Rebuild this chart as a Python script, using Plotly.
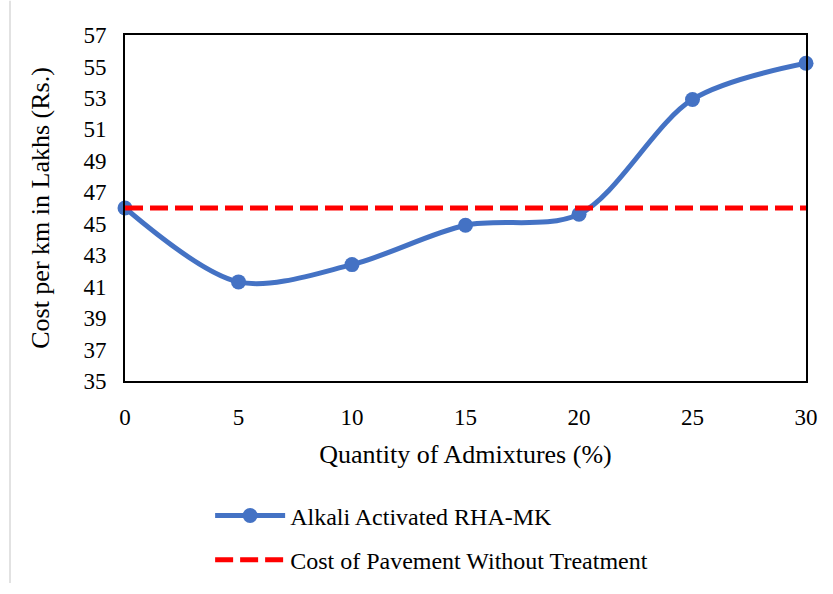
import plotly.graph_objects as go

# Admixture content (%) and cost per km (Rs. lakhs)
admixture_pct = [0, 5, 10, 15, 20, 25, 30]
cost_rha_mk = [46.0, 41.3, 42.4, 44.9, 45.6, 52.9, 55.2]
baseline_cost = 46.0
y_ticks = list(range(35, 58, 2))
x_ticks = list(range(0, 31, 5))

FONT = "Liberation Serif"

fig = go.Figure()

fig.add_trace(go.Scatter(
    x=admixture_pct, y=cost_rha_mk,
    mode="lines+markers",
    name="Alkali Activated RHA-MK",
    line=dict(color="#4472C4", width=5, shape="spline", smoothing=0.9),
    marker=dict(color="#4472C4", size=15),
    cliponaxis=False,
    legendgroup="a",
))

fig.add_trace(go.Scatter(
    x=[admixture_pct[0], admixture_pct[-1]],
    y=[baseline_cost, baseline_cost],
    mode="lines",
    name="Cost of Pavement Without Treatment",
    line=dict(color="#FF0000", width=5, dash="18px,7px"),
    cliponaxis=False,
    legendgroup="b",
))

fig.update_layout(
    width=833, height=594,
    margin=dict(l=125, r=27, t=35, b=206),
    paper_bgcolor="white",
    plot_bgcolor="white",
    font=dict(family=FONT, size=23, color="#000000"),
    showlegend=True,
    legend=dict(
        x=0.125, y=-0.325, xanchor="left", yanchor="top",
        font=dict(family=FONT, size=24, color="#000000"),
        itemwidth=70,
        tracegroupgap=10,
        bgcolor="rgba(0,0,0,0)",
    ),
    xaxis=dict(
        range=[0, 30],
        tickvals=x_ticks,
        showgrid=False, zeroline=False,
        showline=True, linecolor="#000000", linewidth=2, mirror=True,
        ticks="", ticklen=0,
        ticklabelstandoff=14,
        tickfont=dict(family=FONT, size=23),
        title=dict(text="Quantity of Admixtures (%)", font=dict(family=FONT, size=26), standoff=16),
    ),
    yaxis=dict(
        range=[35, 57],
        tickvals=y_ticks,
        showgrid=False, zeroline=False,
        showline=True, linecolor="#000000", linewidth=2, mirror=True,
        ticks="", ticklen=0,
        ticklabelstandoff=12,
        tickfont=dict(family=FONT, size=23),
        title=dict(text="Cost per km in Lakhs (Rs.)", font=dict(family=FONT, size=26), standoff=26),
    ),
)

# Light outer frame of the chart area
fig.add_shape(type="line", xref="paper", yref="paper",
              x0=(10 - 125) / 681, x1=(10 - 125) / 681, y0=-206 / 353, y1=1 + 35 / 353,
              line=dict(color="#D9D9D9", width=1.5))

fig.write_html("out.html")
